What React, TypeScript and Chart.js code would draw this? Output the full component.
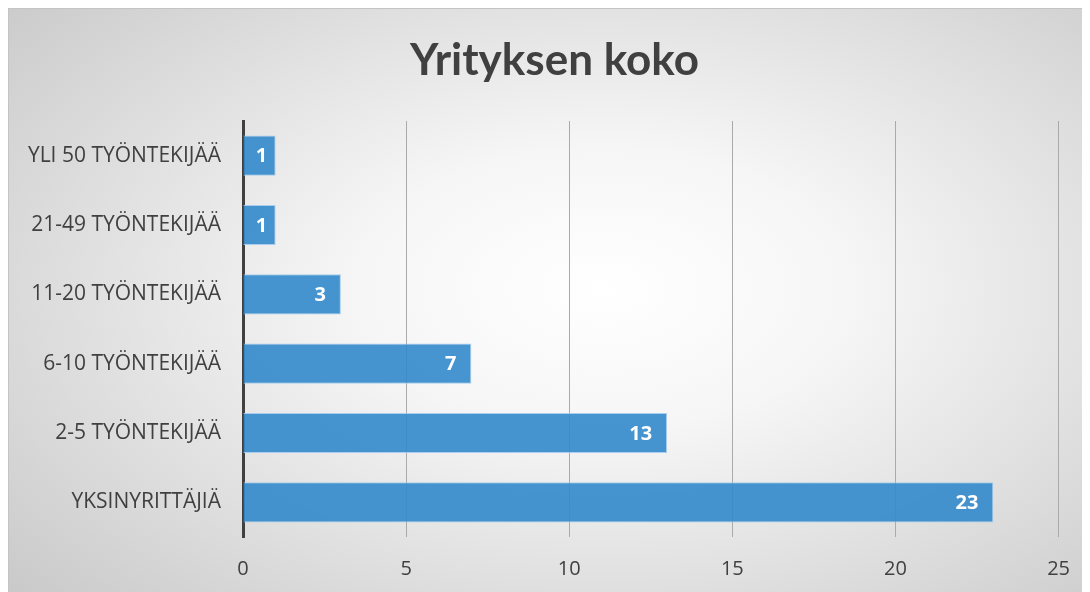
import React, { useEffect, useRef } from "react";
import { Chart, registerables } from "chart.js";

Chart.register(...registerables);

const categories = [
  "YLI 50 TYÖNTEKIJÄÄ",
  "21-49 TYÖNTEKIJÄÄ",
  "11-20 TYÖNTEKIJÄÄ",
  "6-10 TYÖNTEKIJÄÄ",
  "2-5 TYÖNTEKIJÄÄ",
  "YKSINYRITTÄJIÄ",
];
const values = [1, 1, 3, 7, 13, 23];
const titleText = "Yrityksen koko";
const xMin = 0;
const xMax = 25;
const xStep = 5;

const FONT = "'Open Sans', 'DejaVu Sans', sans-serif";
const TITLE_FONT = "Lato, 'Open Sans', sans-serif";

const titlePlugin = {
  id: "customTitle",
  afterDraw(chart: any) {
    const ctx = chart.ctx;
    ctx.save();
    ctx.font = `bold 44px ${TITLE_FONT}`;
    ctx.fillStyle = "#404040";
    ctx.textAlign = "center";
    ctx.textBaseline = "alphabetic";
    ctx.fillText(titleText, chart.width / 2 + 5, 66);
    ctx.restore();
  },
};

const labelPlugin = {
  id: "barLabels",
  afterDatasetsDraw(chart: any) {
    const ctx = chart.ctx;
    const meta = chart.getDatasetMeta(0);
    ctx.save();
    ctx.font = `bold 20px ${FONT}`;
    ctx.fillStyle = "#ffffff";
    ctx.textBaseline = "middle";
    meta.data.forEach((bar: any, i: number) => {
      const txt = String(values[i]);
      const w = ctx.measureText(txt).width;
      const barW = bar.x - bar.base;
      const pad = 15;
      if (barW < w + pad * 2) {
        ctx.textAlign = "center";
        ctx.fillText(txt, (bar.x + bar.base) / 2 + 2, bar.y + 1);
      } else {
        ctx.textAlign = "right";
        ctx.fillText(txt, bar.x - pad, bar.y + 1);
      }
    });
    ctx.restore();
  },
};

export default function App() {
  const ref = useRef<HTMLCanvasElement | null>(null);
  useEffect(() => {
    document.body.style.overflow = "hidden";
    if (!ref.current) return;
    const chart = new Chart(ref.current, {
      type: "bar",
      data: {
        labels: categories,
        datasets: [
          {
            data: values,
            backgroundColor: "rgba(50,136,203,0.9)",
            borderColor: "rgba(165,203,236,0.95)",
            borderWidth: 1,
            barPercentage: 0.58,
            categoryPercentage: 1,
          },
        ],
      },
      options: {
        indexAxis: "y",
        animation: false,
        responsive: false,
        layout: { padding: { top: 112, right: 31, bottom: 0, left: 0 } },
        plugins: {
          legend: { display: false },
          tooltip: { enabled: false },
          title: { display: false },
        },
        scales: {
          x: {
            min: xMin,
            max: xMax,
            afterFit: (s: any) => {
              s.height = 55;
            },
            ticks: {
              stepSize: xStep,
              color: "#404040",
              font: { family: FONT, size: 20 },
              padding: 20,
            },
            grid: { color: "#aaaaaa", lineWidth: 1, drawTicks: false },
            border: { display: false },
          },
          y: {
            afterFit: (s: any) => {
              s.width = 234;
            },
            ticks: {
              color: "#404040",
              font: { family: FONT, size: 21 },
              padding: 22,
            },
            grid: { display: false, drawTicks: false },
            border: { display: true, color: "#404040", width: 3 },
          },
        },
      },
      plugins: [labelPlugin, titlePlugin],
    });
    return () => chart.destroy();
  }, []);

  return (
    <div
      style={{
        width: 1081,
        height: 583,
        borderTop: "1px solid #c4c4c4",
        borderLeft: "1px solid #c4c4c4",
        background:
          "radial-gradient(ellipse 75% 80% at 55% 48%, #ffffff 0%, #f6f6f6 30%, #c8c8c8 100%)",
      }}
    >
      <canvas ref={ref} width={1081} height={583} style={{ display: "block" }} />
    </div>
  );
}
